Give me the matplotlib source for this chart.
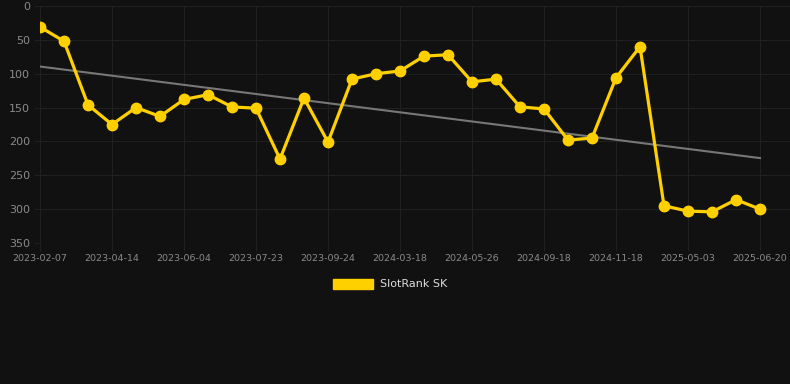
import numpy as np
import matplotlib
matplotlib.use("Agg")
import matplotlib.pyplot as plt
from matplotlib.patches import Patch

tick_labels = ["2023-02-07", "2023-04-14", "2023-06-04", "2023-07-23", "2023-09-24",
               "2024-03-18", "2024-05-26", "2024-09-18", "2024-11-18", "2025-05-03",
               "2025-06-20"]
ranks = [31, 52, 146, 175, 150, 163, 138, 131, 149, 151,
         226, 136, 201, 108, 100, 96, 74, 72, 112, 108,
         149, 152, 198, 195, 106, 60, 295, 303, 304, 286, 300]
series_name = "SlotRank SK"

bg = "#111111"
yellow = "#FFD000"
grid = "#202020"

fig = plt.figure(figsize=(7.9, 3.84), dpi=100, facecolor=bg)
ax = fig.add_axes([40/790, (384-243)/384, 750/790, (243-6)/384], facecolor=bg)

x = np.arange(len(ranks))
coef = np.polyfit(x, ranks, 1)
ax.plot(x, np.polyval(coef, x), color="#777777", lw=1.5, zorder=2)
ax.plot(x, ranks, color=yellow, lw=2.3, marker="o", ms=7.5, zorder=3)

ax.set_ylim(350, 0)
ax.set_xlim(0, 31.25)
ax.set_yticks(range(0, 351, 50))
ax.set_xticks(x[::3])
ax.set_xticklabels(tick_labels)
ax.grid(True, color=grid, lw=0.8)
ax.set_axisbelow(True)
for s in ax.spines.values():
    s.set_visible(False)
ax.tick_params(axis="y", colors=grid, labelcolor="#8a8a8a", labelsize=8, length=4, pad=3)
ax.tick_params(axis="x", colors=grid, labelcolor="#8a8a8a", labelsize=6.8, length=6, pad=2)

handle = Patch(facecolor=yellow, edgecolor=yellow)
fig.legend([handle], [series_name], loc="center", bbox_to_anchor=(390/790, 1 - 284/384),
           frameon=False, fontsize=8, labelcolor="#dddddd", handlelength=3.6,
           handleheight=1.05, handletextpad=0.6)

fig.savefig("out.png", dpi=100, facecolor=bg)
